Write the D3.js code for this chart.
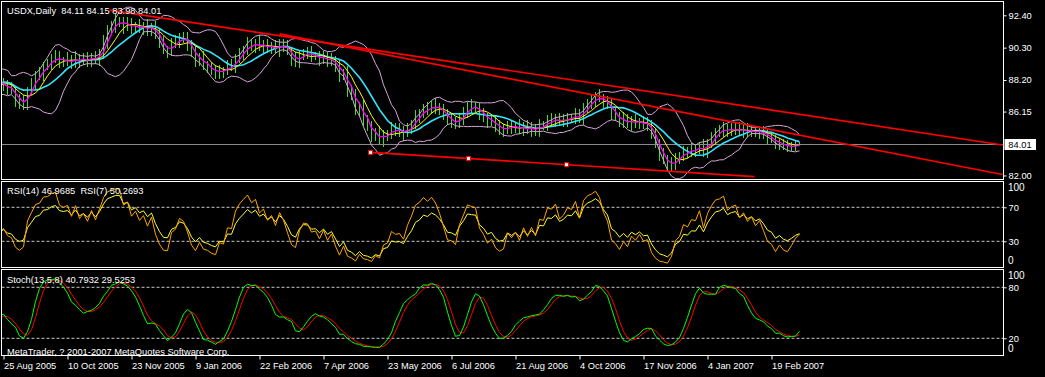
<!DOCTYPE html>
<html>
<head>
<meta charset="utf-8">
<script src="https://cdn.jsdelivr.net/npm/d3@7"></script>
<style>
body { margin: 0; background: #000; }
svg { display: block; font-family: "Liberation Sans", Arial, sans-serif; font-size: 9.3px; }
</style>
</head>
<body>
<svg width="1045" height="377"></svg>
<script>
// bars before the first visible one, only used to warm up the indicators
const preHistory = [88.85, 88.40, 87.70, 87.25, 87.80, 88.45, 88.90, 88.30, 87.65, 87.40, 87.95, 88.35, 88.10, 87.80]

const closes = [
    87.95, 87.62, 87.51, 86.92, 86.65, 86.72, 87.49, 87.92, 88.46, 88.58,
    89.15, 89.21, 89.56, 89.70, 89.45, 89.41, 89.49, 89.31, 89.67, 89.42,
    89.57, 89.42, 89.73, 89.55, 89.89, 90.59, 91.37, 91.66, 92.00, 92.02,
    91.69, 91.87, 91.55, 91.75, 91.53, 91.68, 91.43, 91.68, 91.16, 90.63,
    90.13, 90.09, 90.53, 90.63, 90.97, 90.89, 90.58, 89.94, 89.47, 89.67,
    89.16, 89.05, 88.78, 88.63, 88.85, 88.78, 89.10, 89.08, 89.56, 89.89,
    90.18, 90.53, 90.39, 90.59, 90.34, 90.48, 90.26, 90.39, 90.19, 90.53,
    90.38, 90.06, 89.55, 89.38, 89.75, 89.96, 89.94, 89.73, 89.75, 89.55,
    89.68, 89.42, 89.51, 89.11, 88.45, 88.62, 87.56, 87.20, 86.33, 86.52,
    85.50, 85.24, 84.55, 84.72, 84.26, 84.64, 84.70, 85.04, 84.91, 84.93,
    84.72, 85.04, 85.32, 85.82, 85.99, 86.34, 86.27, 86.53, 86.44, 86.27,
    85.99, 85.55, 85.51, 85.36, 85.75, 86.03, 86.47, 86.44, 86.42, 86.01,
    85.83, 85.49, 85.56, 85.17, 84.96, 84.99, 85.24, 85.10, 85.19, 84.97,
    85.17, 84.96, 85.11, 84.91, 85.24, 85.22, 85.56, 85.54, 85.70, 85.49,
    85.57, 85.75, 85.73, 85.95, 85.75, 86.34, 86.67, 86.83, 87.11, 87.02,
    86.78, 86.61, 86.01, 85.83, 85.47, 85.62, 85.36, 85.56, 85.41, 85.51,
    85.30, 85.32, 84.72, 84.06, 83.36, 83.06, 82.59, 82.74, 83.11, 83.22,
    83.56, 83.49, 83.69, 83.67, 83.95, 83.56, 84.02, 84.41, 84.80, 84.89,
    85.11, 84.84, 84.99, 85.06, 84.84, 84.98, 84.83, 84.93, 84.78, 84.87,
    84.70, 84.44, 84.35, 84.04, 84.12, 83.92, 83.84, 83.90, 83.97, 84.01
]

// wick lengths above / below the bar body, in hundredths (pre-history first)
const wickUp = [
    30, 35, 25, 40, 28, 45, 30, 35, 25, 40, 32, 28, 38, 30,
    35, 28, 45, 22, 38, 50, 25, 40, 30, 48, 22, 38, 30, 45, 35, 25, 50, 32, 40, 22,
    35, 45, 25, 38, 30, 55, 40, 35, 50, 30, 25, 45, 35, 22, 40, 30, 48, 25, 38, 32,
    45, 28, 38, 50, 25, 35, 40, 22, 45, 30, 38, 25, 35, 42, 32, 22, 40, 48, 30, 38,
    25, 45, 35, 28, 50, 32, 38, 25, 42, 35, 30, 40, 22, 45, 35, 28, 38, 48, 25, 32,
    40, 35, 45, 25, 38, 30, 48, 32, 40, 25, 35, 42, 28, 38, 50, 32, 25, 40, 35, 45,
    30, 38, 25, 45, 35, 28, 40, 32, 48, 25, 38, 35, 42, 30, 25, 40, 32, 48, 35, 28,
    38, 25, 45, 32, 40, 35, 28, 38, 25, 45, 32, 40, 35, 25, 42, 30, 38, 48, 28, 35,
    40, 32, 25, 45, 38, 35, 28, 40, 32, 50, 25, 38, 35, 42, 30, 48, 38, 32, 40, 25,
    35, 45, 28, 38, 32, 40, 25, 48, 35, 30, 38, 28, 40, 35, 25, 45, 32, 38, 28, 40,
    35, 25, 42, 32, 38, 30, 40, 35, 25, 28, 36, 30, 40, 28, 34, 24, 36, 30, 32, 14
]
const wickDn = [
    32, 38, 35, 28, 40, 30, 38, 25, 42, 32, 35, 38, 28, 35,
    30, 40, 25, 48, 32, 38, 45, 28, 35, 25, 42, 32, 38, 25, 48, 35, 28, 40, 32, 45,
    25, 38, 35, 28, 45, 30, 38, 25, 40, 35, 48, 28, 38, 32, 25, 42, 35, 40, 30, 38,
    25, 45, 35, 28, 38, 32, 48, 25, 40, 35, 30, 42, 25, 38, 35, 45, 28, 32, 40, 25,
    38, 35, 30, 45, 25, 40, 32, 38, 28, 48, 35, 25, 42, 32, 38, 28, 40, 35, 25, 45,
    32, 38, 28, 40, 35, 25, 45, 30, 38, 48, 28, 35, 40, 32, 25, 42, 38, 30, 35, 40,
    45, 25, 38, 32, 40, 28, 35, 25, 42, 32, 38, 30, 40, 35, 25, 45, 28, 38, 32, 40,
    35, 42, 25, 38, 32, 48, 30, 40, 35, 25, 38, 28, 45, 35, 40, 25, 32, 38, 42, 30,
    35, 40, 25, 38, 32, 45, 28, 35, 40, 25, 38, 32, 42, 28, 35, 40, 25, 45, 32, 38,
    30, 40, 35, 25, 42, 32, 38, 28, 40, 35, 25, 38, 32, 45, 28, 35, 40, 25, 38, 32,
    42, 35, 28, 38, 25, 40, 32, 35, 28, 38, 32, 40, 25, 35, 38, 28, 30, 25, 28, 2
]

const dateLabels = ["25 Aug 2005", "10 Oct 2005", "23 Nov 2005", "9 Jan 2006", "22 Feb 2006", "7 Apr 2006",
    "23 May 2006", "6 Jul 2006", "21 Aug 2006", "4 Oct 2006", "17 Nov 2006", "4 Jan 2007", "19 Feb 2007"]
const dateBars = [0, 16, 32, 48, 64, 80, 96, 112, 128, 144, 160, 176, 192]
const priceTicks = [92.40, 90.30, 88.20, 86.15, 82.00]
const lastPrice = 84.01
const rsiLevels = [70, 30]
const stochLevels = [80, 20]

// trend lines: [bar, price] anchors
const trendLines = [
    {from: [26.5, 92.74], to: [249.75, 83.98]},
    {from: [69, 91.19], to: [249.75, 82.06]},
    {from: [91.75, 83.50], to: [187.75, 81.93]}
]
const trendAnchors = [[91.75, 83.50], [116.25, 83.10], [140.75, 82.70]]

const svg = d3.select('svg')
const right = 1003.5, left = 1.5

const pre = preHistory.length
const c = preHistory.concat(closes)
const o = c.map((v, j) => j ? c[j - 1] : v)
const h = c.map((v, j) => Math.max(v, o[j]) + wickUp[j] / 100)
const l = c.map((v, j) => Math.min(v, o[j]) - wickDn[j] / 100)

const x = d3.scaleLinear().domain([0, 250]).range([3.5, 1003.5])
const y = d3.scaleLinear().domain([82, 92.4]).range([175.46, 15.3])
const yRsi = d3.scaleLinear().domain([0, 100]).range([266.8, 181.8])
const yStoch = d3.scaleLinear().domain([0, 100]).range([355.3, 270.3])

function sma(a, n) {
    return a.map((v, j) => j < n - 1 ? null : d3.mean(a.slice(j - n + 1, j + 1)))
}
function bands(a, n, dev) {
    const mid = sma(a, n)
    const sd = a.map((v, j) => {
        if (j < n - 1) return null
        const w = a.slice(j - n + 1, j + 1)
        return Math.sqrt(d3.mean(w, q => (q - mid[j]) ** 2))
    })
    return [mid.map((m, j) => m == null ? null : m + dev * sd[j]),
            mid.map((m, j) => m == null ? null : m - dev * sd[j])]
}
function rsi(a, n) {
    const out = a.map(() => null)
    let ag = 0, al = 0
    for (let j = 1; j < a.length; j++) {
        const d = a[j] - a[j - 1], g = Math.max(d, 0), s = Math.max(-d, 0)
        if (j <= n) {
            ag += g / n; al += s / n
            if (j < n) continue
        } else {
            ag = (ag * (n - 1) + g) / n
            al = (al * (n - 1) + s) / n
        }
        out[j] = al === 0 ? 100 : 100 - 100 / (1 + ag / al)
    }
    return out
}
function stoch(K, D, S) {
    const num = [], den = []
    c.forEach((v, j) => {
        if (j < K - 1) { num.push(null); den.push(null); return }
        const hh = d3.max(h.slice(j - K + 1, j + 1)), ll = d3.min(l.slice(j - K + 1, j + 1))
        num.push(v - ll); den.push(hh - ll)
    })
    const main = c.map((v, j) => {
        if (j < K + S - 2) return null
        const sd = d3.sum(den.slice(j - S + 1, j + 1))
        return sd ? 100 * d3.sum(num.slice(j - S + 1, j + 1)) / sd : 100
    })
    const sig = main.map((v, j) => j < K + S + D - 3 ? null : d3.mean(main.slice(j - D + 1, j + 1)))
    return [main, sig]
}

// one bar here spans two trading days, so the periods are shortened
const maFast = sma(c, 3), maMid = sma(c, 6), maSlow = sma(c, 11)
const [bbUp, bbDn] = bands(c, 10, 2)
const rsiSlow = rsi(c, 9), rsiFast = rsi(c, 5)
const [stMain, stSig] = stoch(7, 3, 4)

const defs = svg.append('defs')
function clip(id, y0, y1) {
    defs.append('clipPath').attr('id', id).append('rect')
        .attr('x', left + 0.5).attr('y', y0 + 0.5).attr('width', right - left - 1).attr('height', y1 - y0 - 1)
}
clip('cMain', 1.5, 179.5)
clip('cRsi', 181.5, 267.5)
clip('cStoch', 269.5, 355.5)

function pts(a) { return a.map((v, j) => [j - pre, v]) }
function drawLine(g, a, ys, color, w) {
    g.append('path')
        .attr('d', d3.line().defined(d => d[1] != null).x(d => x(d[0])).y(d => ys(d[1]))(pts(a)))
        .attr('fill', 'none').attr('stroke', color).attr('stroke-width', w)
}

// ---- main panel
const gMain = svg.append('g').attr('clip-path', 'url(#cMain)')
gMain.append('g').selectAll('line')
    .data(c.map((v, j) => j))
    .enter().append('line')
    .attr('x1', j => x(j - pre)).attr('x2', j => x(j - pre))
    .attr('y1', j => y(h[j])).attr('y2', j => y(l[j]))
    .attr('stroke', '#3fdf2b').attr('stroke-width', 1)
    .attr('shape-rendering', 'crispEdges')

gMain.append('line')
    .attr('x1', left).attr('x2', right).attr('y1', y(lastPrice)).attr('y2', y(lastPrice))
    .attr('stroke', '#8a8a8a').attr('stroke-width', 1)

drawLine(gMain, bbUp, y, '#dba6dc', 1)
drawLine(gMain, bbDn, y, '#dba6dc', 1)
drawLine(gMain, maSlow, y, '#33e4ff', 1.6)
drawLine(gMain, maMid, y, '#ffff00', 1)
drawLine(gMain, maFast, y, '#ff00ff', 1.3)

gMain.append('g').selectAll('line')
    .data(trendLines)
    .enter().append('line')
    .attr('x1', d => x(d.from[0])).attr('y1', d => y(d.from[1]))
    .attr('x2', d => x(d.to[0])).attr('y2', d => y(d.to[1]))
    .attr('stroke', '#ff0000').attr('stroke-width', 1.7)

gMain.append('g').selectAll('rect')
    .data(trendAnchors)
    .enter().append('rect')
    .attr('x', d => x(d[0]) - 2).attr('y', d => y(d[1]) - 2)
    .attr('width', 4).attr('height', 4)
    .attr('fill', '#fff').attr('stroke', '#ff0000').attr('stroke-width', 1)

// ---- RSI panel
const gRsi = svg.append('g').attr('clip-path', 'url(#cRsi)')
gRsi.selectAll('line')
    .data(rsiLevels)
    .enter().append('line')
    .attr('x1', left).attr('x2', right).attr('y1', d => yRsi(d)).attr('y2', d => yRsi(d))
    .attr('stroke', '#c8c8c8').attr('stroke-dasharray', '3,2')
drawLine(gRsi, rsiSlow, yRsi, '#ffff30', 1)
drawLine(gRsi, rsiFast, yRsi, '#ffa500', 1)

// ---- Stochastic panel
const gStoch = svg.append('g').attr('clip-path', 'url(#cStoch)')
gStoch.selectAll('line')
    .data(stochLevels)
    .enter().append('line')
    .attr('x1', left).attr('x2', right).attr('y1', d => yStoch(d)).attr('y2', d => yStoch(d))
    .attr('stroke', '#c8c8c8').attr('stroke-dasharray', '3,2')
drawLine(gStoch, stSig, yStoch, '#ff0000', 1)
drawLine(gStoch, stMain, yStoch, '#00ff00', 1)

// ---- frames
;[[1.5, 179.5], [181.5, 267.5], [269.5, 355.5]].forEach(([a, b]) => {
    svg.append('rect').attr('x', left).attr('y', a).attr('width', right - left).attr('height', b - a)
        .attr('fill', 'none').attr('stroke', '#fff').attr('stroke-width', 1)
})

// ---- axes
function styleAxis(g) {
    g.select('.domain').remove()
    g.selectAll('line').attr('stroke', '#fff')
    g.selectAll('text').attr('fill', '#fff').style('font-family', '"Liberation Sans", Arial, sans-serif').style('font-size', '9.3px')
}
svg.append('g').attr('transform', `translate(${right},0)`)
    .call(d3.axisRight(y).tickValues(priceTicks).tickSize(3).tickPadding(2).tickFormat(d3.format('.2f')))
    .call(styleAxis)

svg.append('rect').attr('x', 1004.5).attr('y', y(lastPrice) - 5.5).attr('width', 31.5).attr('height', 11).attr('fill', '#fff')
svg.append('text').attr('x', 1008.3).attr('y', y(lastPrice) + 3.4).attr('fill', '#000').text(lastPrice.toFixed(2))

function levelAxis(ys, levels) {
    const g = svg.append('g').attr('transform', `translate(${right},0)`)
        .call(d3.axisRight(ys).tickValues(levels).tickSize(3).tickPadding(2))
        .call(styleAxis)
    g.append('text').attr('x', 4.5).attr('y', ys(100) + 9).attr('fill', '#fff').text('100')
    g.append('text').attr('x', 4.5).attr('y', ys(0) - 3).attr('fill', '#fff').text('0')
}
levelAxis(yRsi, rsiLevels)
levelAxis(yStoch, stochLevels)

const gx = svg.append('g').attr('transform', 'translate(0,356)')
    .call(d3.axisBottom(x).tickValues(dateBars).tickSize(3.5).tickFormat((d, k) => dateLabels[k]))
    .call(styleAxis)
gx.selectAll('text').attr('text-anchor', 'start').attr('x', 0).attr('y', 13.3).attr('dy', 0)

// ---- panel captions
const captions = [
    ['USDX,Daily  84.11 84.15 83.98 84.01', 14],
    ['RSI(14) 46.9685  RSI(7) 50.2693', 194],
    ['Stoch(13,5,8) 40.7932 29.5253', 283],
    ['MetaTrader, ? 2001-2007 MetaQuotes Software Corp.', 354.5]
]
svg.append('g').selectAll('text')
    .data(captions)
    .enter().append('text')
    .attr('x', 7).attr('y', d => d[1])
    .attr('fill', '#fff')
    .style('white-space', 'pre')
    .text(d => d[0])
</script>
</body>
</html>
